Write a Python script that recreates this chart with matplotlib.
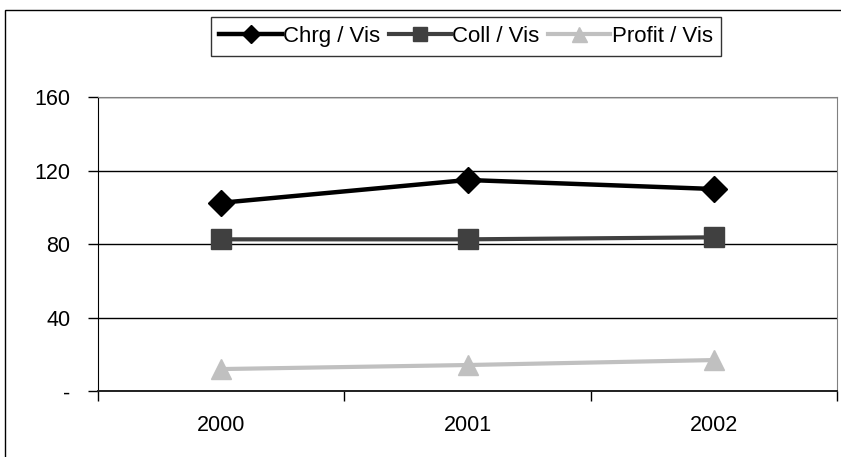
import matplotlib.pyplot as plt
from matplotlib.lines import Line2D
from matplotlib.patches import Rectangle

plt.rcParams["font.family"] = ["Liberation Sans", "DejaVu Sans"]

years = ["2000", "2001", "2002"]
chrg_per_vis = [102.6, 115.0, 110.1]
coll_per_vis = [82.7, 82.7, 83.8]
profit_per_vis = [12.1, 14.3, 17.0]

y_ticks = [0, 40, 80, 120, 160]
y_labels = ["-", "40", "80", "120", "160"]

series = [
    ("Chrg / Vis", chrg_per_vis, "#000000", "D", 13, 3.2),
    ("Coll / Vis", coll_per_vis, "#404040", "s", 14, 3.0),
    ("Profit / Vis", profit_per_vis, "#c0c0c0", "^", 15, 3.0),
]

fig = plt.figure(figsize=(8.41, 4.57), dpi=100)
ax = fig.add_axes([98 / 841, 1 - 391.3 / 457, 739 / 841, 294 / 457])

# outer chart border (runs off the right and bottom edges)
fig.patches.append(Rectangle((5 / 841, -0.1), 1.0, 1 - 10 / 457 + 0.1,
                             transform=fig.transFigure, fill=False,
                             edgecolor="black", linewidth=1.0))

x = list(range(len(years)))
handles = []
for name, vals, color, marker, ms, lw in series:
    ax.plot(x, vals, color=color, linewidth=lw, marker=marker, markersize=ms,
            markerfacecolor=color, markeredgecolor=color, zorder=3)
    handles.append(Line2D([], [], color=color, linewidth=lw, marker=marker,
                          markersize=ms * 0.72, markerfacecolor=color,
                          markeredgecolor=color, label=name))

ax.set_xlim(-0.5, len(years) - 0.5)
ax.set_ylim(0, 160)

# category boundaries carry the tick marks, labels sit between them
ax.set_xticks([i - 0.5 for i in range(len(years) + 1)])
ax.set_xticklabels([])
ax.set_xticks(x, minor=True)
ax.set_xticklabels(years, minor=True)
ax.tick_params(axis="x", which="major", direction="out", length=7, width=1, color="black")
ax.tick_params(axis="x", which="minor", length=0, pad=17, labelsize=15.5)

ax.set_yticks(y_ticks)
ax.set_yticklabels(y_labels)
ax.tick_params(axis="y", direction="out", length=7, width=1, pad=13, labelsize=15.5)

ax.grid(axis="y", color="black", linewidth=1.0, zorder=1)
ax.set_axisbelow(True)

ax.spines["left"].set_color("black")
ax.spines["bottom"].set_color("#202020")
ax.spines["bottom"].set_linewidth(1.4)
ax.spines["top"].set_color("#808080")
ax.spines["right"].set_color("#808080")

leg = fig.legend(handles=handles, loc="center", ncol=3,
                 bbox_to_anchor=(466 / 841, 1 - 36.5 / 457),
                 fontsize=16, frameon=True, fancybox=False,
                 handlelength=2.8, handletextpad=0.05, columnspacing=0.4,
                 borderpad=0.4, borderaxespad=0)
leg.get_frame().set_edgecolor("black")
leg.get_frame().set_linewidth(1.0)

fig.savefig("out.png", dpi=100)
